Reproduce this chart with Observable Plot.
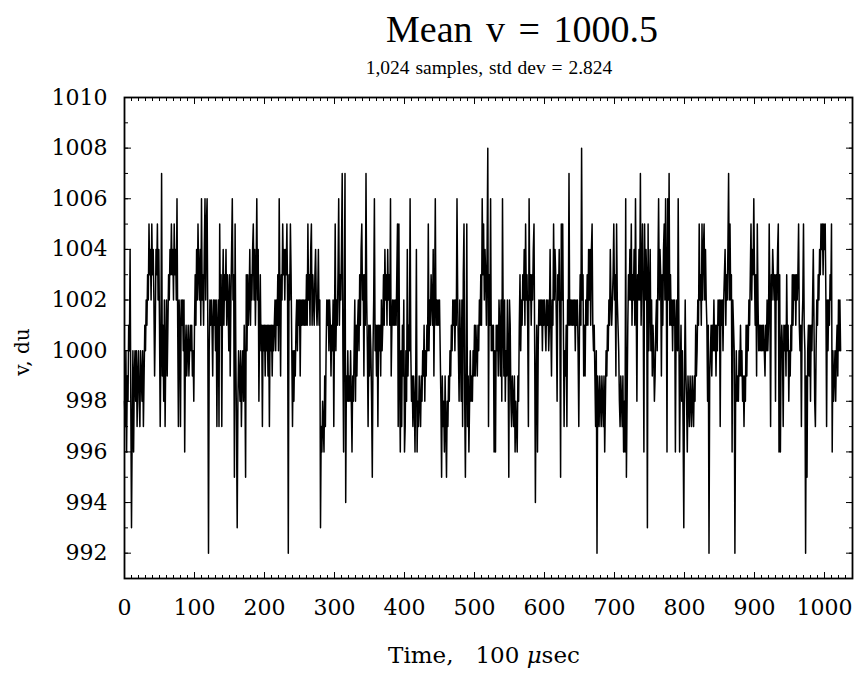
<!DOCTYPE html>
<html><head><meta charset="utf-8">
<script src="https://cdn.jsdelivr.net/npm/d3@7"></script>
<script src="https://cdn.jsdelivr.net/npm/@observablehq/plot@0.6"></script>
<style>
body{margin:0;background:#fff;}
#wrap{position:relative;width:860px;height:685px;overflow:hidden;background:#fff;}
#chart{position:absolute;left:0;top:0;}
.t{position:absolute;white-space:pre;color:#000;transform:translate(-50%,-50%);line-height:1;}
</style></head><body>
<div id="wrap">
<div id="chart"></div>
<div class="t" id="title" style="left:522px;top:29px;font-family:'Liberation Serif';font-size:38px;word-spacing:4px">Mean v = 1000.5</div>
<div class="t" id="subtitle" style="left:489px;top:68px;font-family:'Liberation Serif';font-size:19.5px;word-spacing:1px">1,024 samples, std dev = 2.824</div>
<div class="t" id="xlabel" style="left:484px;top:655px;font-family:'DejaVu Serif';font-size:23px">Time,   100 <i>μ</i>sec</div>
<div class="t" id="ylabel" style="left:22px;top:352px;font-family:'DejaVu Serif';font-size:20px;transform:translate(-50%,-50%) rotate(-90deg)">v, du</div>
</div>
<script>
// Samples 0-255
const seg1 = [
998,997,1000,996,999,998,1001,1000,1004,998,993,997,1000,996,999,1000,998,1000,997,999,1000,998,997,1000,999,998,1000,997,999,1001,1000,1002,
1001,1003,1002,1005,1003,1004,1002,1005,1003,1004,1002,999,1001,1004,1003,1005,1002,1004,1001,997,1000,1007,999,1001,998,1002,997,1000,1002,999,1001,1003,
1002,1004,1003,1005,1003,1004,1002,1005,1003,1004,1002,1006,1001,997,1002,1001,997,1002,1001,1002,1000,1002,996,1000,1001,999,1000,1001,999,1000,1001,1000,
1001,999,1000,998,1001,1003,1001,1004,1002,1005,1003,1002,1004,1001,1006,1002,1003,1001,1004,1006,1002,1005,1006,1001,992,1000,1002,1001,1002,1001,999,1002,
1001,1002,1000,1002,997,1001,1002,997,1005,1001,1003,997,1002,1004,1001,1003,1002,1004,1001,1003,1002,1000,1003,999,1002,1004,1006,1002,1003,995,1005,1000,
997,993,998,1000,999,998,1000,997,999,1000,998,1001,999,995,1003,1000,1003,1001,1002,1004,1001,1003,1002,1004,1005,1002,1004,1001,1003,1006,1002,1004,
998,1001,1003,1000,1001,997,1001,1000,1001,999,1001,1000,1001,999,1001,997,1001,1000,1001,999,1001,1000,1001,1002,1000,1002,1001,1003,1000,1006,1002,999,
1003,1002,1005,1003,1004,1002,1004,1003,1005,1002,992,1003,1002,1005,1003,1000,997,1000,998,1000,999,1001,1002,1000,1002,1001,1002,999,1002,1001,1002,1001
];
// Samples 256-511
const seg2 = [
1002,1001,1002,1001,1003,1001,1005,1002,1003,1001,1004,1005,1001,1003,1002,1001,1003,1004,1002,1001,1002,1004,1001,1002,993,997,996,998,997,996,999,997,
1000,1002,1001,1002,1000,1002,1001,999,1001,1000,1002,997,1001,1005,1000,1002,1001,1003,1006,1001,1003,1002,1004,1007,1000,996,1002,1007,994,999,998,1000,
998,999,998,1000,998,996,999,998,1000,1002,998,1001,999,1001,1002,1000,1003,1001,1004,1005,1002,1003,999,1003,1001,1007,1002,1000,997,1001,999,1001,
1000,998,995,1000,1002,1006,1000,1001,999,1001,997,1001,1000,1001,999,1002,1000,1001,1003,1001,1004,1002,1003,1001,1004,1002,1003,1001,1006,999,1001,1002,
1001,1002,1001,1002,1001,1003,1005,997,1005,999,996,1000,997,1001,999,1002,996,997,1000,998,1004,999,1001,1000,1006,1000,998,999,997,999,998,996,
999,1004,996,998,997,999,998,997,999,998,1000,999,1001,998,1000,999,1001,1000,1005,1000,1002,1001,1003,1002,1001,1004,999,1002,1006,1001,1002,1001,
1002,1001,1002,1000,998,995,999,997,998,996,999,997,995,998,997,999,998,1000,999,1001,1000,1002,1001,1002,1000,1002,1001,1006,1002,1000,998,1002,
1000,998,1002,997,1003,1005,998,995,999,1005,997,999,996,998,1000,998,999,998,1000,999,1001,999,1001,1000,999,1001,1000,1002,1001,1003,1001,1006
];
// Samples 512-767
const seg3 = [
1003,1005,1002,1004,1003,1001,1004,1008,997,1003,1001,1006,1000,1001,1000,1001,996,1000,996,1001,1000,1001,999,1002,1001,999,1002,998,1006,1001,999,1002,
998,1000,999,1002,1000,995,1002,1001,998,997,999,998,997,999,996,998,997,996,999,998,1001,1003,1000,1002,1001,1003,1002,1004,1001,1005,1002,1003,
1001,997,1006,1002,1003,1001,1003,1002,1004,1005,1000,994,999,1001,996,1000,1002,1001,1002,1001,1002,1000,1002,1001,1002,1001,1000,1002,1001,1002,1000,1001,
1004,1001,999,1002,1001,1005,1002,1004,1003,1001,998,1003,1002,1004,1001,995,1005,1002,1005,1001,997,1000,999,1001,997,1002,1001,1007,1001,1002,1001,1002,
1001,1002,1001,1002,1000,1002,1001,1002,1000,997,1001,1003,1001,1008,1002,1003,999,1001,999,1002,1001,1003,1001,1004,1002,1004,1001,1004,1005,1001,1000,1001,
999,997,1000,992,999,998,997,999,998,997,999,998,997,999,996,998,1000,999,1001,1000,1002,1001,1004,1002,1001,1002,1003,1005,1002,1003,999,1005,
1002,1001,1000,998,997,999,998,997,999,996,998,996,1006,995,998,1001,1003,1002,1004,1002,1005,1001,1003,1002,1004,1001,1006,1002,998,1003,1002,1004,
1002,1007,1001,1003,1005,1002,996,1005,1002,1004,1003,993,1005,1000,1002,1004,1000,1002,999,1001,1000,998,999,1001,1002,1000,1003,1006,1002,1004,1003,999
];
// Samples 768-1023
const seg4 = [
1003,1001,1004,1005,1002,1006,1003,996,1006,1002,1007,1001,1003,1001,1002,1000,1002,1001,1002,996,1001,1002,1000,1006,1001,996,999,1001,998,1000,997,993,
999,1002,999,998,996,999,998,997,999,998,997,999,998,997,999,998,1001,999,1000,1002,1001,1005,1002,1003,1001,1005,1002,1004,1005,1002,1004,1002,
1001,998,1001,992,999,1000,1001,999,1001,1000,1002,1000,1001,999,1001,1000,1002,1001,1002,997,1002,1001,1002,1000,1002,1003,1004,1001,1003,1002,1004,1007,
1002,1005,1002,1003,996,1002,1001,1000,992,998,1000,998,999,998,1000,999,1001,999,1000,998,999,997,999,998,1001,999,1001,1000,1002,1001,1003,1005,
1002,1004,1003,1006,1003,1001,1003,999,1005,1002,1000,1001,1000,1001,1000,1001,1000,1001,1000,999,1001,1000,1002,1000,1001,1005,1002,997,1003,1002,1004,1003,
1002,1003,998,1003,1002,1004,1005,996,1003,996,1000,1001,1000,997,1001,1000,1001,999,1003,1000,1001,998,1000,999,1001,1000,1003,1001,1003,1002,1003,1001,
1003,1002,1003,1005,1001,1000,1001,997,1001,1002,1005,1001,1000,992,999,995,1000,1001,999,1001,998,1001,1000,1002,1004,1001,998,997,1000,1002,1001,1003,
1002,1004,1003,1005,1004,1005,1003,1005,1004,1005,1002,997,1002,1000,1002,1001,1003,1002,1005,996,1000,998,999,1000,998,1000,1001,999,1002,1000,1002,1000
];

const xTickLabels = [0,100,200,300,400,500,600,700,800,900,1000];
const yTickLabels = [992,994,996,998,1000,1002,1004,1006,1008,1010];
const xMinorTicks = d3.range(0, 1041, 10);
const yMinorTicks = d3.range(991, 1011, 1);

const values = [...seg1, ...seg2, ...seg3, ...seg4];
const samples = values.map((v, i) => ({t: i, v}));
const fmt = d => String(d);

const chart = Plot.plot({
  width: 860,
  height: 685,
  marginTop: 97,
  marginBottom: 107,
  marginLeft: 124,
  marginRight: 8,
  x: {domain: [0, 1040]},
  y: {domain: [991, 1010]},
  style: {fontFamily: "'DejaVu Serif'", fontSize: "22px", color: "black", background: "white", overflow: "visible"},
  marks: [
    Plot.line(samples, {x: "t", y: "v", stroke: "black", strokeWidth: 1.5}),
    Plot.frame({stroke: "black", strokeWidth: 1.8}),
    Plot.axisX(xMinorTicks, {anchor: "bottom", tickSize: -3, text: null, label: null}),
    Plot.axisX(xTickLabels, {anchor: "bottom", tickSize: -6, text: null, label: null}),
    Plot.axisX(xMinorTicks, {anchor: "top", tickSize: -3, text: null, label: null}),
    Plot.axisX(xTickLabels, {anchor: "top", tickSize: -6, text: null, label: null}),
    Plot.axisX(xTickLabels, {anchor: "bottom", tickSize: 0, tickPadding: 21, label: null, fontSize: 22, tickFormat: fmt}),
    Plot.axisY(yMinorTicks, {anchor: "left", tickSize: -4, text: null, label: null}),
    Plot.axisY(yTickLabels, {anchor: "left", tickSize: -7, text: null, label: null}),
    Plot.axisY(yMinorTicks, {anchor: "right", tickSize: -4, text: null, label: null}),
    Plot.axisY(yTickLabels, {anchor: "right", tickSize: -7, text: null, label: null}),
    Plot.axisY(yTickLabels, {anchor: "left", tickSize: 0, tickPadding: 17, label: null, fontSize: 22, tickFormat: fmt})
  ]
});
document.getElementById("chart").appendChild(chart);
</script>
</body></html>
